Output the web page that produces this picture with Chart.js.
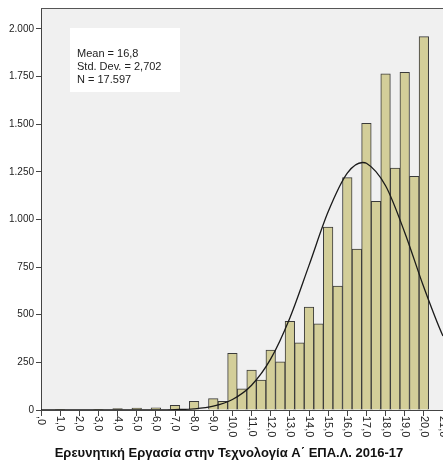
<!DOCTYPE html>
<html>
<head>
<meta charset="utf-8">
<script src="https://cdn.jsdelivr.net/npm/chart.js@4.4.1/dist/chart.umd.min.js"></script>
<style>
  html, body { margin: 0; padding: 0; background: #fff; overflow: hidden; }
  #wrap { width: 443px; height: 463px; position: relative; }
</style>
</head>
<body>
<div id="wrap"><canvas id="myChart" width="443" height="463"></canvas></div>

<script type="text/javascript">
// histogram bins (score, step 0,5) and their frequencies
var binCenters = [0, 0.5, 1, 1.5, 2, 2.5, 3, 3.5, 4, 4.5,
                  5, 5.5, 6, 6.5, 7, 7.5, 8, 8.5, 9, 9.5,
                  10, 10.5, 11, 11.5, 12, 12.5, 13, 13.5, 14, 14.5,
                  15, 15.5, 16, 16.5, 17, 17.5, 18, 18.5, 19, 19.5, 20];
var counts = [0, 0, 4, 0, 0, 0, 2, 0, 7, 0,
              10, 0, 12, 0, 24, 0, 45, 0, 60, 46,
              298, 111, 210, 157, 315, 253, 465, 353, 540, 452,
              960, 650, 1220, 845, 1505, 1095, 1765, 1270, 1772, 1226, 1960];

// normal curve at these x positions
var curveX = [0, 5, 6, 7, 8, 9, 10, 11, 12, 13, 14, 15, 16, 16.8, 17, 18, 19, 20, 21, 22];
var curveY = [0, 0, 0.4, 2, 6, 20, 55, 130, 268, 483, 759, 1040, 1243, 1299, 1295, 1177, 932, 644, 388, 204];

var xTicks = [0, 1, 2, 3, 4, 5, 6, 7, 8, 9, 10, 11, 12, 13, 14, 15, 16, 17, 18, 19, 20, 21];
var yTicks = [0, 250, 500, 750, 1000, 1250, 1500, 1750, 2000];

var statLines = ['Mean = 16,8', 'Std. Dev. = 2,702', 'N = 17.597'];
var xTitle = 'Ερευνητική Εργασία στην Τεχνολογία Α΄ ΕΠΑ.Λ. 2016-17';

var fontFam = 'Arial, "Liberation Sans", sans-serif';

function fmtThousands(v) {
  return String(v).replace(/\B(?=(\d{3})+(?!\d))/g, '.');
}
function fmtX(v) {
  return (v === 0 ? '' : String(v)) + ',0';
}

var spssPlugin = {
  id: 'spss',
  beforeDraw: function (chart) {
    var c = chart.ctx, a = chart.chartArea;
    c.save();
    c.fillStyle = '#F0F0F0';
    c.fillRect(a.left, a.top, a.right - a.left, a.bottom - a.top);
    c.restore();
  },
  afterDraw: function (chart) {
    var c = chart.ctx, a = chart.chartArea;
    var xs = chart.scales.x;
    c.save();
    // top frame line
    c.strokeStyle = '#555';
    c.lineWidth = 1;
    c.beginPath();
    c.moveTo(a.left, a.top + 0.5);
    c.lineTo(a.right, a.top + 0.5);
    c.stroke();

    // statistics box
    c.fillStyle = '#fff';
    c.fillRect(70, 28, 110, 64);
    c.fillStyle = '#222';
    c.font = '11px ' + fontFam;
    c.textBaseline = 'middle';
    c.textAlign = 'left';
    for (var i = 0; i < statLines.length; i++) {
      c.fillText(statLines[i], 77, 54 + i * 12.8);
    }

    // x tick labels, vertical, reading downwards
    c.font = '11px ' + fontFam;
    c.fillStyle = '#222';
    xTicks.forEach(function (t) {
      var px = xs.getPixelForValue(t);
      c.save();
      c.translate(px, a.bottom + 6);
      c.rotate(Math.PI / 2);
      c.textAlign = 'left';
      c.textBaseline = 'middle';
      c.fillText(fmtX(t), 0, 0);
      c.restore();
    });

    // axis title
    c.font = 'bold 13px ' + fontFam;
    c.fillStyle = '#111';
    c.textAlign = 'center';
    c.textBaseline = 'middle';
    c.fillText(xTitle, 229, 453);
    c.restore();
  }
};

var barData = binCenters.map(function (b, i) { return { x: b, y: counts[i] }; });
var curveData = curveX.map(function (x, i) { return { x: x, y: curveY[i] }; });

var ctx = document.getElementById('myChart');
var myChart = new Chart(ctx, {
  type: 'bar',
  data: {
    datasets: [{
      type: 'line',
      data: curveData,
      borderColor: '#1a1a1a',
      borderWidth: 1.3,
      pointRadius: 0,
      fill: false,
      cubicInterpolationMode: 'monotone',
      order: 0
    }, {
      type: 'bar',
      data: barData,
      backgroundColor: 'rgb(211, 206, 153)',
      borderColor: '#3a3a3a',
      borderWidth: 1,
      barPercentage: 1.0,
      categoryPercentage: 1.0,
      order: 1
    }]
  },
  options: {
    responsive: false,
    animation: false,
    layout: { padding: { top: 7, left: 0, right: 0, bottom: 0 } },
    plugins: {
      legend: { display: false },
      tooltip: { enabled: false }
    },
    scales: {
      x: {
        type: 'linear',
        min: 0,
        max: 21,
        offset: false,
        afterFit: function (s) { s.height = 53; s.paddingLeft = 0; s.paddingRight = 0; },
        afterBuildTicks: function (s) {
          s.ticks = xTicks.map(function (v) { return { value: v }; });
        },
        ticks: { display: false },
        grid: {
          display: true,
          offset: false,
          drawOnChartArea: false,
          drawTicks: true,
          tickLength: 6,
          color: '#444'
        },
        border: { display: true, color: '#444', width: 1 }
      },
      y: {
        min: 0,
        max: 2110,
        afterFit: function (s) { s.width = 41; },
        afterBuildTicks: function (s) {
          s.ticks = yTicks.map(function (v) { return { value: v }; });
        },
        ticks: {
          padding: 2,
          color: '#222',
          font: { family: fontFam, size: 10 },
          callback: function (v) { return fmtThousands(v); }
        },
        grid: {
          display: true,
          drawOnChartArea: false,
          drawTicks: true,
          tickLength: 5,
          color: '#444'
        },
        border: { display: true, color: '#444', width: 1 }
      }
    }
  },
  plugins: [spssPlugin]
});
</script>
</body>
</html>
